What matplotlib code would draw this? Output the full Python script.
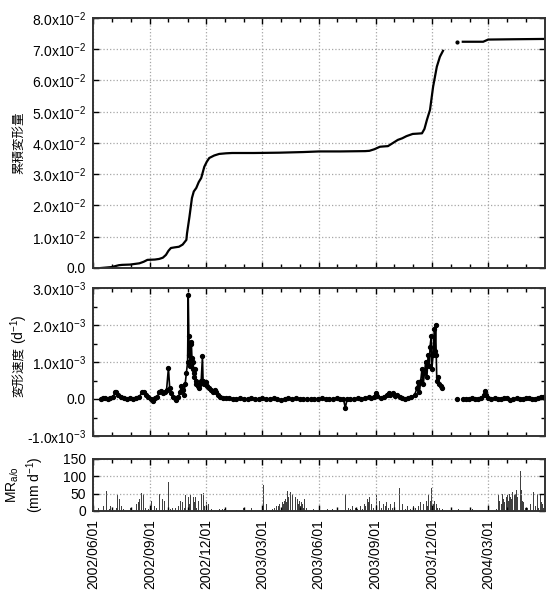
import numpy as np
import matplotlib
matplotlib.use('Agg')
import matplotlib.pyplot as plt
import matplotlib.dates as mdates

plt.rcParams['font.family'] = ['Liberation Sans', 'Noto Sans CJK JP', 'DejaVu Sans']
plt.rcParams['mathtext.default'] = 'regular'

start = np.datetime64('2002-06-01')
x_end = np.datetime64('2004-05-31T23:00')

# cumulative deformation (x1e-2), days since 2002/06/01; nan = gap in record
cum_days = [13, 30, 42, 47, 60, 75, 82, 88, 100, 107, 113, 118, 122, 126, 132, 139, 145,
            151, 152, 156, 160, 163, 167, 171, 175, 180, 184, 188, 196, 204, 215, 225,
            260, 301, 340, 366, 400, 440, 447, 455, 464, 470, 477, 485, 493, 500, 507,
            517, 525, 532, 536, 540, 545, 550, 556, 561, 566, 570, 598, 610, 631, 639, 680, 731]
cum_vals = [0.0, 0.03, 0.09, 0.1, 0.11, 0.15, 0.2, 0.26, 0.27, 0.29, 0.33, 0.42, 0.55, 0.64,
            0.66, 0.68, 0.75, 0.9, 1.1, 1.64, 2.24, 2.45, 2.56, 2.75, 2.88, 3.24, 3.4, 3.52,
            3.6, 3.65, 3.67, 3.68, 3.68, 3.69, 3.71, 3.73, 3.73, 3.74, 3.75, 3.8, 3.88, 3.89,
            3.9, 4.0, 4.1, 4.15, 4.22, 4.29, 4.3, 4.31, 4.45, 4.74, 5.06, 5.8, 6.44, 6.76, 6.95,
            np.nan, 7.24, 7.24, 7.24, 7.31, 7.32, 7.33]
cum_dot_days = [588]
cum_dot_vals = [7.24]

# deformation rate (x1e-3 per day)
vel_days = [13, 16, 20, 24, 28, 32, 36, 38, 41, 45, 50, 55, 60, 65, 70, 75, 79, 82, 85, 89,
            93, 97, 100, 104, 107, 110, 113, 116, 119, 122, 124, 126, 129, 132, 135, 138, 141,
            143, 145, 147, 149, 151, 153, 154, 155, 156, 157, 158, 159, 160, 161, 162, 163, 164,
            165, 166, 167, 169, 171, 173, 175, 177, 178, 180, 182, 185, 188, 191, 194, 197, 199,
            202, 205, 210, 215, 220, 226, 232, 238, 244, 250, 256, 262, 268, 274, 280, 286, 292,
            298, 304, 310, 316, 322, 328, 334, 340, 346, 352, 358, 364, 370, 376, 382, 388, 394,
            400, 405, 408, 411, 416, 422, 428, 434, 440, 446, 450, 455, 457, 460, 465, 470, 475,
            478, 481, 485, 488, 492, 496, 500, 505, 510, 515, 520, 524, 526, 528, 530, 532, 534,
            536, 538, 540, 542, 544, 545, 547, 548, 550, 552, 553, 554, 555, 556, 558, 560, 562,
            564, 576, 588, 593, 598, 603, 608, 613, 618, 623, 628, 632, 634, 636, 639, 644, 650,
            655, 660, 665, 670, 675, 680, 685, 690, 695, 700, 705, 710, 715, 720, 724, 727, 731]
vel_vals = [0.0, 0.02, 0.03, 0.0, 0.02, 0.05, 0.18, 0.2, 0.1, 0.05, 0.02, 0.0, 0.02, 0.01,
            0.03, 0.06, 0.18, 0.2, 0.1, 0.05, 0.0, -0.05, 0.03, 0.05, 0.2, 0.22, 0.15, 0.2,
            0.25, 0.84, 0.3, 0.15, 0.05, 0.02, -0.02, 0.05, 0.2, 0.35, 0.25, 0.1, 0.4, 0.7, 1.0,
            2.8, 1.7, 1.2, 0.9, 1.5, 1.55, 1.1, 0.8, 1.0, 0.7, 0.6, 0.8, 0.5, 0.4, 0.35, 0.3,
            0.4, 0.5, 1.15, 0.5, 0.4, 0.45, 0.35, 0.3, 0.25, 0.2, 0.25, 0.2, 0.1, 0.05, 0.03,
            0.02, 0.02, 0.01, 0.0, 0.02, 0.01, 0.0, 0.02, 0.01, -0.01, 0.02, 0.0, 0.01, 0.02,
            0.0, -0.03, 0.01, 0.03, 0.0, 0.02, 0.01, 0.0, 0.01, -0.01, 0.0, 0.01, 0.02, 0.0,
            0.01, 0.0, 0.02, 0.01, 0.0, -0.24, 0.0, 0.01, 0.0, 0.02, 0.0, 0.03, 0.05, 0.02,
            0.05, 0.15, 0.08, 0.02, 0.05, 0.12, 0.15, 0.1, 0.15, 0.08, 0.12, 0.05, 0.02, 0.0,
            0.02, 0.05, 0.1, 0.3, 0.45, 0.2, 0.5, 0.8, 0.4, 0.7, 1.0, 0.6, 1.2, 0.9, 1.4, 1.7,
            0.8, 1.2, 1.9, 1.3, 2.0, 1.2, 0.5, 0.6, 0.4, 0.35, 0.3, np.nan, 0.0, np.nan, 0.0,
            0.01, 0.0, 0.02, 0.01, 0.0, 0.03, 0.1, 0.22, 0.1, 0.03, 0.01, 0.02, 0.0, 0.01, 0.03,
            0.02, -0.02, 0.01, 0.02, 0.0, 0.01, 0.03, 0.02, 0.0, -0.01, 0.02, 0.06, 0.05, 0.02]

# daily rainfall / snowmelt MR (mm/d)
rain_days = [9, 13, 17, 22, 26, 29, 34, 38, 40, 43, 46, 50, 61, 65, 68, 71, 73, 75, 78, 81,
             85, 90, 95, 99, 103, 107, 110, 112, 115, 118, 122, 125, 128, 133, 138, 142, 145,
             148, 150, 152, 154, 156, 158, 160, 162, 164, 166, 168, 170, 173, 176, 178, 181,
             184, 187, 192, 199, 204, 210, 213, 232, 243, 249, 256, 270, 276, 280, 283, 290,
             294, 297, 300, 302, 304, 306, 308, 309, 311, 313, 314, 316, 317, 319, 320, 322,
             323, 325, 327, 328, 330, 331, 333, 334, 336, 337, 339, 340, 342, 345, 351, 357,
             367, 372, 379, 384, 388, 393, 396, 401, 408, 413, 416, 419, 424, 428, 433, 436,
             439, 441, 444, 446, 447, 450, 453, 456, 458, 461, 464, 467, 470, 473, 475, 478,
             481, 484, 487, 490, 495, 498, 501, 505, 509, 514, 518, 521, 524, 527, 529, 532,
             535, 537, 539, 541, 543, 546, 548, 550, 552, 555, 557, 560, 565, 574, 591, 614,
             634, 642, 652, 656, 658, 660, 662, 664, 666, 668, 670, 672, 673, 675, 677, 679,
             681, 683, 685, 687, 689, 691, 693, 695, 696, 699, 702, 705, 707, 710, 713, 716,
             719, 721, 723, 725, 727, 729]
rain_vals = [10, 5, 15, 58, 5, 15, 20, 10, 45, 35, 15, 5, 8, 3, 10, 20, 25, 35, 52, 50,
             10, 5, 30, 15, 8, 48, 10, 35, 30, 5, 85, 5, 10, 8, 15, 30, 25,
             10, 45, 30, 40, 20, 45, 15, 40, 25, 40, 10, 30, 20, 50, 52, 15,
             25, 20, 5, 50, 5, 5, 5, 3, 10, 10, 10, 3, 75, 20, 20, 5,
             10, 15, 15, 20, 10, 25, 20, 30, 35, 25, 57, 40, 55, 30, 55, 50,
             30, 45, 25, 40, 30, 35, 20, 30, 15, 25, 20, 10, 35, 10, 3, 5,
             25, 3, 5, 3, 5, 45, 10, 3, 50, 10, 5, 15, 10, 5, 15, 5,
             20, 15, 35, 25, 40, 20, 10, 55, 45, 15, 30, 10, 20, 15, 25, 10,
             20, 10, 25, 5, 65, 5, 20, 5, 15, 5, 15, 10, 20, 15, 25, 10,
             20, 25, 30, 15, 45, 30, 65, 20, 30, 20, 10, 10, 5, 20, 5, 5,
             10, 20, 5, 45, 30, 20, 50, 35, 25, 40, 45, 30, 50, 40, 35, 55,
             45, 50, 60, 40, 55, 115, 60, 30, 25, 10, 10, 5, 20, 10, 55, 15,
             50, 10, 50, 25, 20, 10]


def to_dates(days):
    return start + np.array(days, dtype='timedelta64[D]')


def sci(v, exp):
    if v == 0:
        return '0.0'
    return '%.1fx10$^{%d}$' % (v / 10.0 ** exp, exp)


W, H = 547, 592
fig = plt.figure(figsize=(W / 100, H / 100), dpi=100)
left, width = 93 / W, 452 / W
ax1 = fig.add_axes([left, 1 - 268 / H, width, 250 / H])
ax2 = fig.add_axes([left, 1 - 436 / H, width, 148 / H])
ax3 = fig.add_axes([left, 1 - 511 / H, width, 52 / H])

# top: cumulative deformation
ax1.plot(to_dates(cum_days), np.array(cum_vals) * 1e-2, color='black', lw=1.6)
ax1.plot(to_dates(cum_dot_days), np.array(cum_dot_vals) * 1e-2, 'o', color='black', ms=2)
ax1.set_ylim(0, 0.08)
yt1 = np.arange(0, 0.0801, 0.01)
ax1.set_yticks(yt1)
ax1.set_yticklabels([sci(v, -2) for v in yt1])
ax1.text(-0.162, 0.5, '累積変形量', transform=ax1.transAxes, rotation=90,
         ha='center', va='center', fontsize=9)

# middle: deformation rate
ax2.plot(to_dates(vel_days), np.array(vel_vals) * 1e-3, '-o', color='black', lw=1.2, ms=2.8)
ax2.set_ylim(-1e-3, 3e-3)
yt2 = np.arange(-1e-3, 3.01e-3, 1e-3)
ax2.set_yticks(yt2)
ax2.set_yticklabels([sci(round(v, 6), -3) for v in yt2])
ax2.set_yticks(np.arange(-1e-3, 3e-3, 0.5e-3), minor=True)
ax2.text(-0.163, 0.60, '変形速度', transform=ax2.transAxes, rotation=90,
         ha='center', va='top', fontsize=9)
ax2.text(-0.163, 0.62, '(d$^{-1}$)', transform=ax2.transAxes, rotation=90,
         ha='center', va='bottom', fontsize=10)

# bottom: rainfall
ax3.bar(to_dates(rain_days), rain_vals, width=1.4, color='0.25', linewidth=0)
ax3.set_ylim(0, 150)
ax3.set_yticks([0, 50, 100, 150])
ax3.text(-0.150, 0.5, 'MR$_{a/o}$\n(mm d$^{-1}$)', transform=ax3.transAxes, rotation=90,
         ha='center', va='center', fontsize=10, linespacing=1.2)

for ax in (ax1, ax2, ax3):
    ax.set_xlim(start, x_end)
    ax.xaxis.set_major_locator(mdates.MonthLocator(bymonth=[3, 6, 9, 12], bymonthday=1))
    ax.xaxis.set_minor_locator(mdates.MonthLocator())
    ax.xaxis.set_major_formatter(mdates.DateFormatter('%Y/%m/%d'))
    ax.grid(True, which='major', linestyle=':', color='0.65', lw=0.9)
    ax.tick_params(which='both', direction='in', top=True, right=True, labelsize=10)
    ax.tick_params(which='major', length=4, width=1)
    ax.tick_params(which='minor', length=3, width=1)
    ax.tick_params(axis='y', pad=5)
    ax.tick_params(axis='x', pad=6)
    for s in ax.spines.values():
        s.set_linewidth(1.4)
        s.set_color('0.2')
    if ax is not ax3:
        ax.tick_params(labelbottom=False)

ax3.set_yticks([], minor=True)
for lab in ax3.get_xticklabels():
    lab.set_rotation(90)

fig.savefig('out.png', dpi=100)
